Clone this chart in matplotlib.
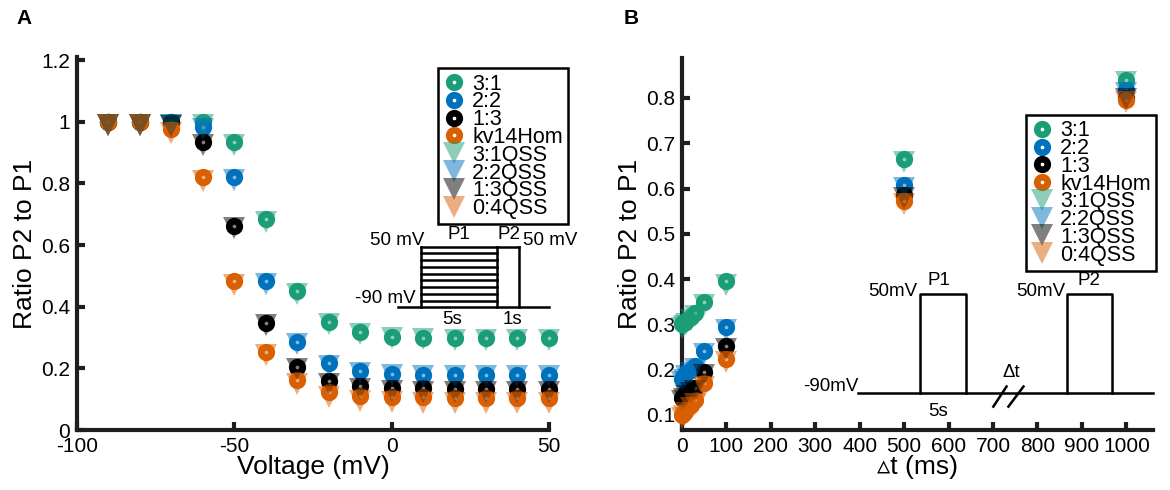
import numpy as np
import matplotlib
matplotlib.use('Agg')
import matplotlib.pyplot as plt

plt.rcParams['font.family'] = ['Liberation Sans', 'DejaVu Sans']
plt.rcParams['axes.unicode_minus'] = False

# ---- data, panel A (voltage protocol)
Voltage = [-90, -80, -70, -60, -50, -40, -30, -20, -10, 0, 10, 20, 30, 40, 50]
A_31 = [1.0, 1.0, 1.0, 1.0, 0.935, 0.686, 0.451, 0.351, 0.317, 0.303, 0.298, 0.297, 0.297, 0.297, 0.297]
A_22 = [1.0, 1.0, 1.0, 0.984, 0.822, 0.483, 0.286, 0.216, 0.192, 0.182, 0.180, 0.179, 0.179, 0.179, 0.179]
A_13 = [1.0, 1.0, 1.0, 0.935, 0.663, 0.348, 0.205, 0.159, 0.142, 0.137, 0.135, 0.134, 0.134, 0.134, 0.134]
A_Hom = [1.0, 1.0, 0.978, 0.82, 0.483, 0.254, 0.162, 0.124, 0.112, 0.108, 0.106, 0.105, 0.105, 0.105, 0.105]
A_31QSS = [0.99, 0.99, 0.99, 0.99, 0.925, 0.676, 0.442, 0.343, 0.310, 0.297, 0.294, 0.293, 0.293, 0.293, 0.293]
A_22QSS = [0.99, 0.99, 0.99, 0.976, 0.812, 0.474, 0.278, 0.209, 0.186, 0.177, 0.175, 0.175, 0.175, 0.175, 0.175]
A_13QSS = [0.99, 0.99, 0.985, 0.925, 0.655, 0.340, 0.197, 0.150, 0.133, 0.127, 0.125, 0.124, 0.124, 0.124, 0.124]
A_04QSS = [0.99, 0.99, 0.965, 0.808, 0.472, 0.242, 0.148, 0.108, 0.095, 0.091, 0.089, 0.088, 0.088, 0.088, 0.088]

# ---- data, panel B (recovery interval)
Dt = [1, 5, 10, 20, 30, 50, 100, 500, 1000]
B_31 = [0.300, 0.303, 0.308, 0.316, 0.325, 0.350, 0.396, 0.665, 0.840]
B_22 = [0.180, 0.185, 0.192, 0.200, 0.208, 0.242, 0.295, 0.608, 0.818]
B_13 = [0.138, 0.142, 0.148, 0.155, 0.160, 0.195, 0.252, 0.586, 0.800]
B_Hom = [0.100, 0.105, 0.112, 0.122, 0.132, 0.170, 0.224, 0.572, 0.795]
B_31QSS = [0.293, 0.296, 0.301, 0.309, 0.318, 0.342, 0.388, 0.658, 0.836]
B_22QSS = [0.173, 0.178, 0.185, 0.193, 0.201, 0.235, 0.288, 0.601, 0.812]
B_13QSS = [0.131, 0.135, 0.141, 0.148, 0.154, 0.188, 0.245, 0.580, 0.797]
B_04QSS = [0.093, 0.098, 0.105, 0.115, 0.125, 0.162, 0.216, 0.565, 0.790]

Labels = ['3:1', '2:2', '1:3', 'kv14Hom', '3:1QSS', '2:2QSS', '1:3QSS', '0:4QSS']
Colors = ['#1b9e77', '#0072bd', '#000000', '#d95f02']
AxCol = '#1e1e1e'


def DrawSeries(Ax, X, Circles, Triangles):
    Handles = []
    for Y, C in zip(Circles, Colors):
        H, = Ax.plot(X, Y, ls='none', marker='o', ms=7.6, mew=4.8, mec=C, mfc='white',
                     clip_on=False, zorder=3)
        Handles.append(H)
    for Y, C in zip(Triangles, Colors):
        H, = Ax.plot(X, Y, ls='none', marker='v', ms=16, mew=0, mfc=C, alpha=0.5,
                     clip_on=False, zorder=4)
        Handles.append(H)
    return Handles


def StyleAxis(Ax):
    for S in ['top', 'right']:
        Ax.spines[S].set_visible(False)
    for S in ['left', 'bottom']:
        Ax.spines[S].set_linewidth(3)
        Ax.spines[S].set_color(AxCol)
    Ax.tick_params(direction='in', length=6, width=3, color=AxCol, labelsize=15, pad=5)


def AddLegend(Ax, Handles, Anchor):
    Leg = Ax.legend(Handles, Labels, loc='upper left', bbox_to_anchor=Anchor, fontsize=15.5,
                    frameon=True, fancybox=False, framealpha=1, edgecolor='black',
                    borderpad=0.25, labelspacing=-0.15, handlelength=1.0, handletextpad=0.35,
                    borderaxespad=0)
    Leg.get_frame().set_linewidth(1.8)
    Leg.set_zorder(10)


Fig = plt.figure(figsize=(11.7, 4.9), dpi=100)

# ---------------- panel A
AxA = Fig.add_axes([0.0658, 0.1224, 0.4034, 0.761])
HandA = DrawSeries(AxA, Voltage, [A_31, A_22, A_13, A_Hom], [A_31QSS, A_22QSS, A_13QSS, A_04QSS])
AxA.set_xlim(-100, 50)
AxA.set_ylim(0, 1.21)
AxA.set_xticks([-100, -50, 0, 50])
AxA.set_yticks([0, 0.2, 0.4, 0.6, 0.8, 1.0, 1.2])
AxA.set_yticklabels(['0', '0.2', '0.4', '0.6', '0.8', '1', '1.2'])
StyleAxis(AxA)
AxA.set_xlabel('Voltage (mV)', fontsize=19, labelpad=-1)
AxA.set_ylabel('Ratio P2 to P1', fontsize=19, labelpad=3)
AddLegend(AxA, HandA, (0.764, 0.97))

# protocol sketch A
T = AxA.transAxes
Kw = dict(color='black', lw=1.8, transform=T, clip_on=False, zorder=5)
AxA.plot([0.680, 1.0], [0.330, 0.330], **Kw)
AxA.plot([0.729, 0.729], [0.330, 0.492], **Kw)
AxA.plot([0.890, 0.890], [0.330, 0.492], **Kw)
AxA.plot([0.936, 0.936], [0.330, 0.492], **Kw)
AxA.plot([0.890, 0.936], [0.492, 0.492], **Kw)
for Yl in np.linspace(0.492, 0.347, 9):
    AxA.plot([0.729, 0.890], [Yl, Yl], **Kw)
TKw = dict(transform=T, fontsize=13.5, zorder=5)
AxA.text(0.735, 0.508, '50 mV', ha='right', va='center', **TKw)
AxA.text(0.809, 0.525, 'P1', ha='center', va='center', **TKw)
AxA.text(0.915, 0.525, 'P2', ha='center', va='center', **TKw)
AxA.text(0.945, 0.508, '50 mV', ha='left', va='center', **TKw)
AxA.text(0.718, 0.353, '-90 mV', ha='right', va='center', **TKw)
AxA.text(0.794, 0.297, '5s', ha='center', va='center', **TKw)
AxA.text(0.922, 0.297, '1s', ha='center', va='center', **TKw)

# ---------------- panel B
AxB = Fig.add_axes([0.5829, 0.1224, 0.4026, 0.759])
HandB = DrawSeries(AxB, Dt, [B_31, B_22, B_13, B_Hom], [B_31QSS, B_22QSS, B_13QSS, B_04QSS])
AxB.set_xlim(0, 1060)
AxB.set_ylim(0.0668, 0.888)
AxB.set_xticks(range(0, 1001, 100))
AxB.set_yticks([0.1, 0.2, 0.3, 0.4, 0.5, 0.6, 0.7, 0.8])
StyleAxis(AxB)
AxB.set_xlabel('\u25b5t (ms)', fontsize=19, labelpad=-1)
AxB.set_ylabel('Ratio P2 to P1', fontsize=19, labelpad=3)
AddLegend(AxB, HandB, (0.73, 0.847))

# protocol sketch B
T = AxB.transAxes
Kw = dict(color='black', lw=1.8, transform=T, clip_on=False, zorder=5)
AxB.plot([0.374, 1.0], [0.100, 0.100], **Kw)
AxB.plot([0.505, 0.505, 0.603, 0.603], [0.100, 0.367, 0.367, 0.100], **Kw)
AxB.plot([0.818, 0.818, 0.912, 0.912], [0.100, 0.367, 0.367, 0.100], **Kw)
AxB.plot([0.661, 0.689], [0.063, 0.117], **Kw)
AxB.plot([0.693, 0.725], [0.063, 0.117], **Kw)
TKw = dict(transform=T, fontsize=13.5, zorder=5)
AxB.text(0.499, 0.372, '50mV', ha='right', va='center', **TKw)
AxB.text(0.546, 0.402, 'P1', ha='center', va='center', **TKw)
AxB.text(0.813, 0.372, '50mV', ha='right', va='center', **TKw)
AxB.text(0.864, 0.402, 'P2', ha='center', va='center', **TKw)
AxB.text(0.700, 0.155, '\u0394t', ha='center', va='center', **TKw)
AxB.text(0.544, 0.049, '5s', ha='center', va='center', **TKw)
AxB.text(0.374, 0.116, '-90mV', ha='right', va='center', **TKw)

# panel letters
Fig.text(0.014, 0.962, 'A', fontsize=15, fontweight='bold', va='center')
Fig.text(0.533, 0.962, 'B', fontsize=15, fontweight='bold', va='center')

Fig.savefig('out.png', dpi=100)
